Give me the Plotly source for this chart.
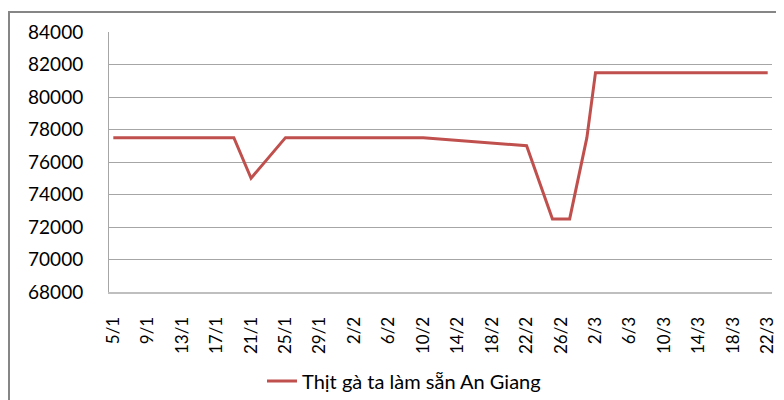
import pandas as pd
import plotly.graph_objects as go

YEAR = 2011  # năm không nhuận (tháng 2 có 28 ngày)

# điểm dữ liệu (ngày/tháng) và giá
ngay = ["5/1", "19/1", "21/1", "25/1", "10/2", "22/2", "25/2", "27/2", "1/3", "2/3", "22/3"]
gia = [77500, 77500, 75000, 77500, 77500, 77000, 72500, 72500, 77500, 81500, 81500]

tick_labels = ["5/1", "9/1", "13/1", "17/1", "21/1", "25/1", "29/1", "2/2", "6/2", "10/2",
               "14/2", "18/2", "22/2", "26/2", "2/3", "6/3", "10/3", "14/3", "18/3", "22/3"]

ten_series = "Thịt gà ta làm sẵn An Giang"


def to_date(s):
    d, m = s.split("/")
    return pd.Timestamp(year=YEAR, month=int(m), day=int(d))


x = [to_date(s) for s in ngay]
tickvals = [to_date(s) for s in tick_labels]

# trang html có lề 8px nên hình được dời 8px
OFF = 8
W, H = 784 - OFF, 400 - OFF
L, T = 109 - OFF, 32 - OFF
R = W - (772 - OFF)
B = H - (292 - OFF)
pw, ph = W - L - R, H - T - B


def px_x(p):  # pixel màn hình -> paper
    return (p - OFF - L) / pw


def px_y(p):
    return (T + ph - (p - OFF)) / ph


fig = go.Figure()
fig.add_trace(go.Scatter(
    x=x, y=gia, mode="lines", name=ten_series,
    line=dict(color="#C0504D", width=3),
))

font_family = "Lato, 'Open Sans', sans-serif"

fig.update_layout(
    width=W, height=H,
    margin=dict(l=L, r=R, t=T, b=B, autoexpand=False),
    paper_bgcolor="white", plot_bgcolor="white",
    font=dict(family=font_family, size=18, color="#000000"),
    showlegend=True,
    legend=dict(orientation="h", x=px_x(404), xanchor="center",
                y=px_y(381), yanchor="middle",
                font=dict(size=20)),
)

x0 = tickvals[0] - pd.Timedelta(hours=12)
x1 = tickvals[-1] + pd.Timedelta(hours=12)
fig.update_xaxes(
    range=[x0, x1], automargin=False,
    tickmode="array", tickvals=tickvals, ticktext=tick_labels,
    tickangle=-90, tickfont=dict(size=17),
    ticks="", ticklabelstandoff=16,
    showgrid=False, showline=True, linecolor="#BFBFBF", linewidth=2,
    zeroline=False,
)
fig.update_yaxes(
    range=[68000, 84000], dtick=2000, tickformat="d", automargin=False,
    showgrid=True, gridcolor="#A6A6A6", gridwidth=1,
    showline=True, linecolor="#A6A6A6", linewidth=1,
    ticks="", ticklabelstandoff=21, tickfont=dict(size=19),
    zeroline=False,
)

# khung viền ngoài của biểu đồ
fig.add_shape(
    type="rect", xref="paper", yref="paper",
    x0=px_x(9), x1=px_x(800),
    y0=px_y(420), y1=px_y(12),
    line=dict(color="#868686", width=2), fillcolor="rgba(0,0,0,0)",
    layer="below",
)

fig.write_html("out.html")
